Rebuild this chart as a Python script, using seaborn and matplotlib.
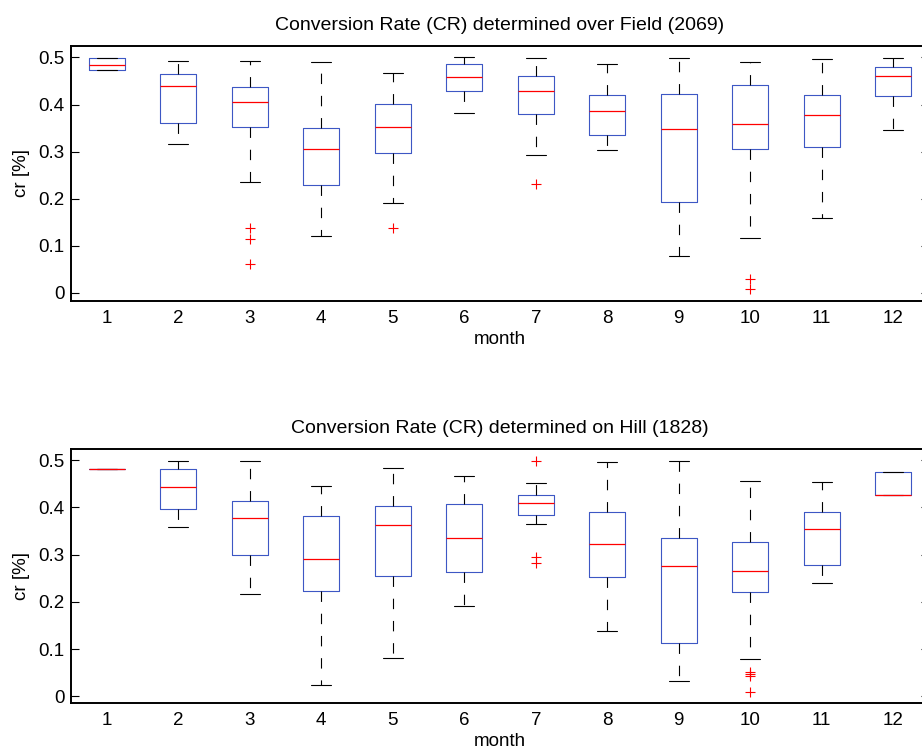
import pandas as pd
import seaborn as sns
import matplotlib
matplotlib.use("Agg")
import matplotlib.pyplot as plt

months = list(range(1, 13))

# box stats (whisker low, q1, median, q3, whisker high)
field_lo = [0.473, 0.317, 0.236, 0.121, 0.191, 0.381, 0.293, 0.304, 0.078, 0.116, 0.159, 0.346]
field_q1 = [0.473, 0.360, 0.353, 0.229, 0.298, 0.429, 0.379, 0.336, 0.193, 0.306, 0.309, 0.419]
field_med = [0.485, 0.440, 0.406, 0.306, 0.353, 0.458, 0.428, 0.386, 0.348, 0.359, 0.378, 0.461]
field_q3 = [0.498, 0.464, 0.438, 0.351, 0.402, 0.486, 0.461, 0.420, 0.422, 0.441, 0.421, 0.480]
field_hi = [0.498, 0.492, 0.492, 0.490, 0.467, 0.500, 0.499, 0.487, 0.499, 0.490, 0.497, 0.499]
field_out_month = [3, 3, 3, 5, 7, 10, 10]
field_out_val = [0.137, 0.115, 0.061, 0.138, 0.232, 0.029, 0.008]

hill_lo = [0.481, 0.359, 0.216, 0.025, 0.081, 0.191, 0.365, 0.138, 0.032, 0.080, 0.240, 0.427]
hill_q1 = [0.481, 0.396, 0.300, 0.222, 0.255, 0.263, 0.384, 0.253, 0.112, 0.221, 0.277, 0.427]
hill_med = [0.481, 0.444, 0.377, 0.290, 0.362, 0.336, 0.410, 0.322, 0.276, 0.265, 0.355, 0.427]
hill_q3 = [0.481, 0.482, 0.413, 0.382, 0.403, 0.408, 0.427, 0.390, 0.336, 0.327, 0.391, 0.475]
hill_hi = [0.481, 0.499, 0.499, 0.446, 0.483, 0.467, 0.451, 0.495, 0.497, 0.456, 0.454, 0.475]
hill_out_month = [7, 7, 7, 10, 10, 10, 10]
hill_out_val = [0.499, 0.294, 0.283, 0.052, 0.047, 0.042, 0.009]

sns.set_style("white")
plt.rcParams["font.family"] = ["Liberation Sans", "DejaVu Sans"]
plt.rcParams["lines.scale_dashes"] = False
plt.rcParams["text.color"] = "black"
plt.rcParams["axes.labelcolor"] = "black"

BLUE = "#3d57c4"


def to_long(lo, q1, med, q3, hi):
    rows = []
    for i, m in enumerate(months):
        for v in (lo[i], q1[i], med[i], q3[i], hi[i]):
            rows.append({"month": m, "cr": v})
    return pd.DataFrame(rows)


def draw(ax, df, out_df, title, ylim):
    sns.boxplot(data=df, x="month", y="cr", order=months, ax=ax,
                whis=(0, 100), showfliers=False, fill=False, width=0.5,
                linecolor=BLUE, linewidth=0.8, capwidths=0.28,
                boxprops={"color": BLUE},
                medianprops={"color": "red", "linewidth": 0.9},
                whiskerprops={"color": "black", "linestyle": (0, (7.5, 8.5))},
                capprops={"color": "black"})
    sns.stripplot(data=out_df, x="month", y="cr", order=months, ax=ax,
                  jitter=False, marker="+", color="red", size=7.5, linewidth=0.8)
    ax.set_xlim(-0.5, 11.5)
    ax.set_ylim(*ylim)
    ax.set_yticks([0, 0.1, 0.2, 0.3, 0.4, 0.5])
    ax.set_yticklabels(["0", "0.1", "0.2", "0.3", "0.4", "0.5"])
    ax.set_xticks(range(12))
    ax.set_xticklabels([str(m) for m in months])
    ax.tick_params(axis="y", direction="in", length=6, width=0.8, left=True, right=True,
                   pad=4.5, labelsize=13.5, colors="black")
    ax.tick_params(axis="x", length=0, pad=7, labelsize=13.5, colors="black")
    ax.set_xlabel("month", fontsize=13.5, labelpad=2.5)
    ax.set_ylabel("cr [%]", fontsize=13.5, labelpad=6)
    ax.set_title(title, fontsize=14, pad=11)
    for s in ax.spines.values():
        s.set_visible(True)
        s.set_color("black")
        s.set_linewidth(1.4)


fig = plt.figure(figsize=(9.22, 7.49), dpi=100)
ax1 = fig.add_axes([0.077, 0.5985, 0.9306, 0.3405])
ax2 = fig.add_axes([0.077, 0.0618, 0.9306, 0.3391])

field_df = to_long(field_lo, field_q1, field_med, field_q3, field_hi)
field_out = pd.DataFrame({"month": field_out_month, "cr": field_out_val})
hill_df = to_long(hill_lo, hill_q1, hill_med, hill_q3, hill_hi)
hill_out = pd.DataFrame({"month": hill_out_month, "cr": hill_out_val})

draw(ax1, field_df, field_out, "Conversion Rate (CR) determined over Field (2069)", (-0.017, 0.525))
draw(ax2, hill_df, hill_out, "Conversion Rate (CR) determined on Hill (1828)", (-0.0135, 0.524))

fig.savefig("out.png", dpi=100)
